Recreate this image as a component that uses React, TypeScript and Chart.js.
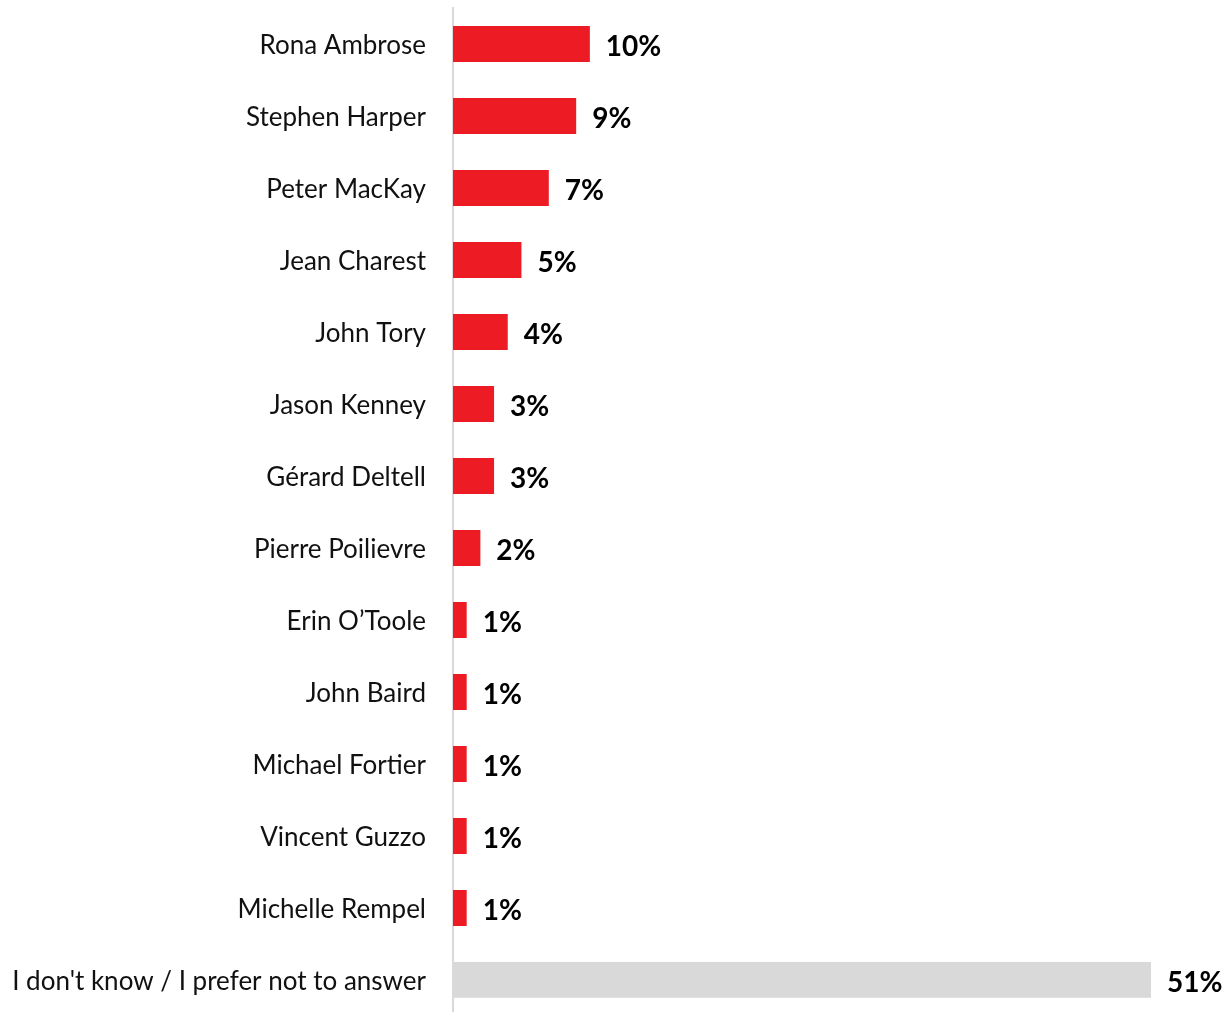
import React, { useEffect, useRef } from "react";
import { Chart, registerables } from "chart.js";

Chart.register(...registerables);

const categories = [
  "Rona Ambrose",
  "Stephen Harper",
  "Peter MacKay",
  "Jean Charest",
  "John Tory",
  "Jason Kenney",
  "Gérard Deltell",
  "Pierre Poilievre",
  "Erin O’Toole",
  "John Baird",
  "Michael Fortier",
  "Vincent Guzzo",
  "Michelle Rempel",
  "I don't know / I prefer not to answer",
];

const values = [10, 9, 7, 5, 4, 3, 3, 2, 1, 1, 1, 1, 1, 51];
const valueLabels = ["10%", "9%", "7%", "5%", "4%", "3%", "3%", "2%", "1%", "1%", "1%", "1%", "1%", "51%"];

const RED = "#ED1C24";
const GREY = "#D9D9D9";
const FONT = "Lato, 'Noto Sans', sans-serif";

const valueLabelPlugin = {
  id: "valueLabels",
  afterDatasetsDraw(chart: any) {
    const ctx = chart.ctx;
    const meta = chart.getDatasetMeta(0);
    ctx.save();
    ctx.font = `bold 28px ${FONT}`;
    ctx.fillStyle = "#000000";
    ctx.textAlign = "left";
    ctx.textBaseline = "middle";
    meta.data.forEach((bar: any, i: number) => {
      ctx.fillText(valueLabels[i], bar.x + 16, bar.y + 3);
    });
    ctx.restore();
  },
};

export default function App() {
  const canvasRef = useRef<HTMLCanvasElement | null>(null);

  useEffect(() => {
    const canvas = canvasRef.current;
    if (!canvas) return;
    const chart = new Chart(canvas, {
      type: "bar",
      data: {
        labels: categories,
        datasets: [
          {
            data: values,
            backgroundColor: values.map((_, i) => (i === values.length - 1 ? GREY : RED)),
            barPercentage: 0.5,
            categoryPercentage: 1.0,
            borderWidth: 0,
          },
        ],
      },
      options: {
        indexAxis: "y",
        animation: false,
        responsive: false,
        devicePixelRatio: 1,
        layout: { padding: { top: 8, right: 79, bottom: 0, left: 0 } },
        plugins: {
          legend: { display: false },
          tooltip: { enabled: false },
        },
        scales: {
          x: {
            display: false,
            min: 0,
            max: 51,
          },
          y: {
            grid: { display: false, drawTicks: true, tickLength: 27 },
            border: { display: true, color: "#D9D9D9", width: 2 },
            ticks: {
              padding: 0,
              labelOffset: 2,
              color: "#111111",
              font: { family: FONT, size: 26, lineHeight: 0.01 },
            },
            afterFit(scale: any) {
              scale.width = 453;
            },
          },
        },
      },
      plugins: [valueLabelPlugin],
    });
    return () => chart.destroy();
  }, []);

  return (
    <div style={{ position: "fixed", top: 0, left: 0, width: 1230, height: 1012, overflow: "hidden", background: "#fff" }}>
      <canvas ref={canvasRef} width={1230} height={1016} style={{ display: "block" }} />
    </div>
  );
}
